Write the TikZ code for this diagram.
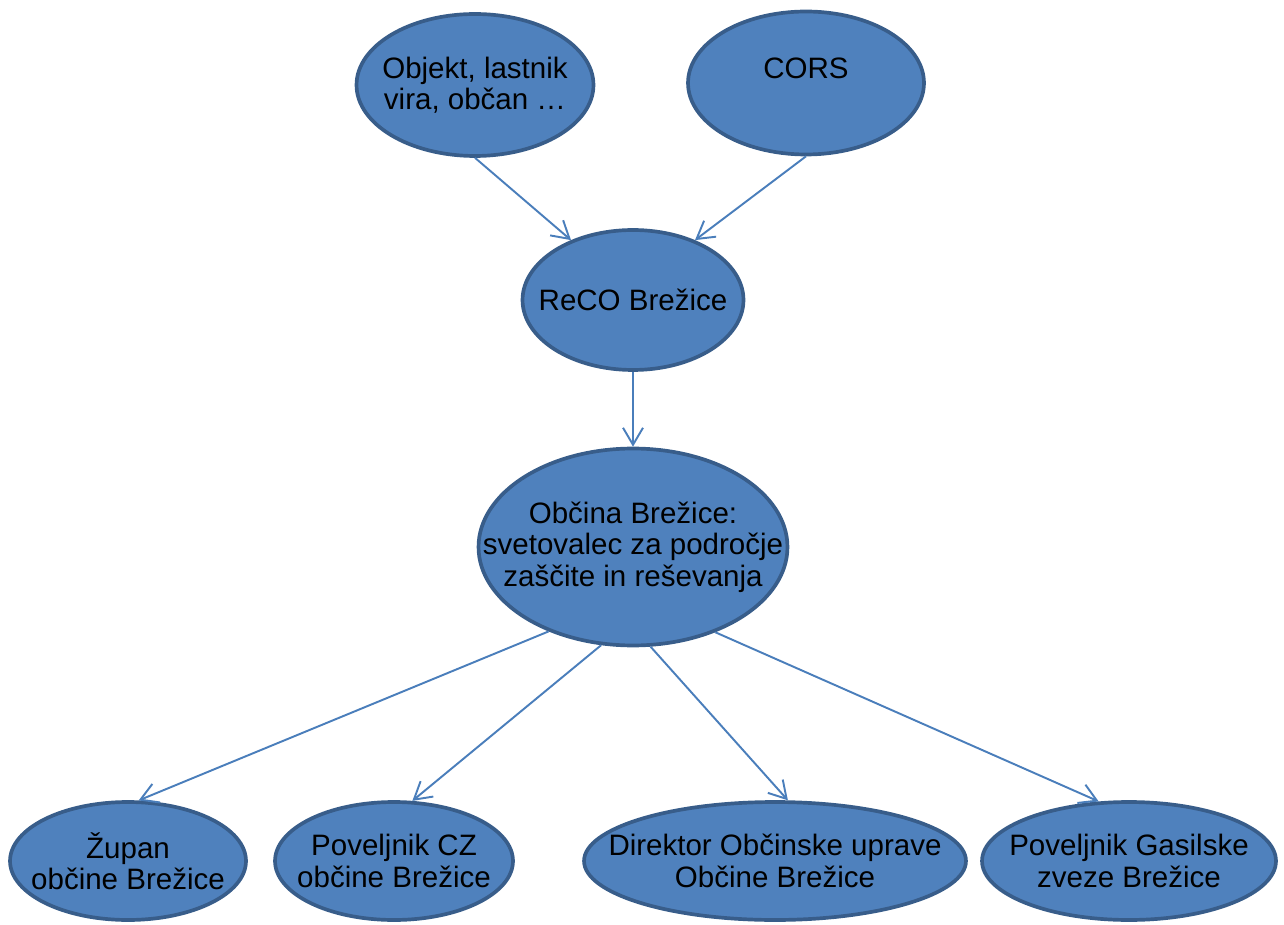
\documentclass[tikz,border=0pt]{standalone}
\usepackage{fontspec}
\setmainfont{Liberation Sans}
\usepackage{xcolor}
\usetikzlibrary{shapes.geometric,arrows.meta}
\definecolor{bubblefill}{HTML}{4F81BD}
\definecolor{bubbleline}{HTML}{385D8A}
\definecolor{arrowline}{HTML}{4A7EBB}

\begin{document}
\begin{tikzpicture}[x=0.02cm, y=-0.02cm,
    bubble/.style={ellipse, draw=bubbleline, fill=bubblefill, line width=2.1pt, inner sep=0pt, minimum height=2.36cm},
    txt/.style={align=center, font=\fontsize{16.8}{17.9}\selectfont, text=black},
    arrow/.style={-{Straight Barb[length=3.4mm, width=4mm]}, draw=arrowline, line width=1.1pt}]

    \useasboundingbox (0,0) rectangle (1284,925);

    \node[bubble, minimum width=4.74cm, minimum height=2.84cm, label={[txt]center:Objekt, lastnik\\vira, občan …}] (objekt) at (475,85) {};
    \node[bubble, minimum width=4.72cm, minimum height=2.86cm, label={[txt, yshift=0.3cm]center:CORS}] (cors) at (806,83) {};
    \node[bubble, minimum width=4.42cm, minimum height=2.8cm, label={[txt]center:ReCO Brežice}] (reco) at (633,300) {};
    \node[bubble, minimum width=6.18cm, minimum height=3.94cm, label={[txt]center:Občina Brežice:\\svetovalec za področje\\zaščite in reševanja}] (obcina) at (633,547) {};

    \node[bubble, minimum width=4.72cm, label={[txt]center:Župan\\občine Brežice}] (zupan) at (128,861) {};
    \node[bubble, minimum width=4.76cm, label={[txt]center:Poveljnik CZ\\občine Brežice}] (cz) at (394,861) {};
    \node[bubble, minimum width=7.64cm, label={[txt]center:Direktor Občinske uprave\\Občine Brežice}] (direktor) at (775,861) {};
    \node[bubble, minimum width=5.88cm, label={[txt]center:Poveljnik Gasilske\\zveze Brežice}] (gasilske) at (1129,861) {};

    \draw[arrow] (objekt.south) -- (reco.136);
    \draw[arrow] (cors.south) -- (reco.44);
    \draw[arrow] (reco.south) -- (obcina.north);

    \draw[arrow] (obcina.225) -- (zupan.80);
    \draw[arrow] (obcina.252) -- (cz.73);
    \draw[arrow] (obcina.280) -- (direktor.78);
    \draw[arrow] (obcina.314) -- (gasilske.117);

\end{tikzpicture}
\end{document}
